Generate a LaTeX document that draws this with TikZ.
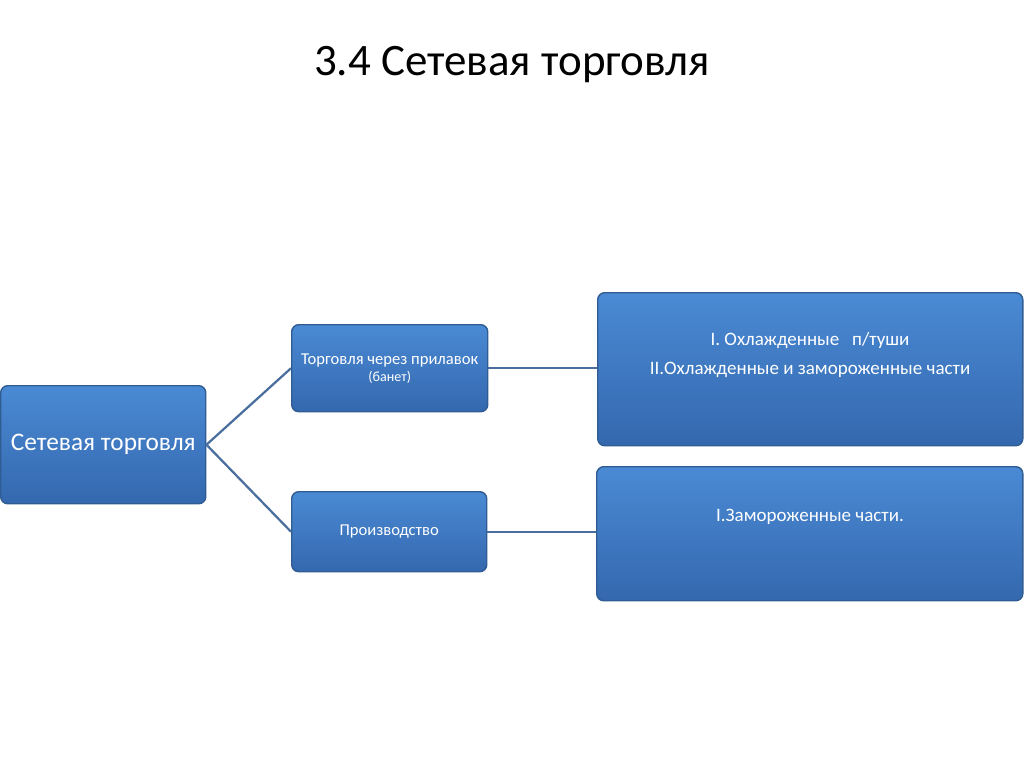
\documentclass[tikz,border=0pt]{standalone}
\usepackage{fontspec}
\setmainfont{Carlito}
\begin{document}
\begin{tikzpicture}[x=0.025cm,y=-0.025cm,
  box/.style={draw=boxborder,line width=1pt,rounded corners=5pt,top color=boxtop,bottom color=boxbot,text=white,align=center,inner sep=2pt,anchor=north west},
  conn/.style={draw=linecol,line width=1.6pt}]
\definecolor{boxtop}{HTML}{4A8AD4}
\definecolor{boxbot}{HTML}{3468AE}
\definecolor{boxborder}{HTML}{2F5C92}
\definecolor{linecol}{HTML}{4A6F9E}
\useasboundingbox (0,0) rectangle (1024,767);
\node (title) at (512,65) {\fontsize{32}{38}\selectfont 3.4 Сетевая торговля};
\node[box,minimum width=5.125cm,minimum height=2.95cm] (root) at (0,385) {\fontsize{18}{22}\selectfont Сетевая торговля};
\node[box,minimum width=4.9cm,minimum height=2.175cm] (a) at (291,324) {\fontsize{11.8}{15}\selectfont Торговля через прилавок\\(банет)};
\node[box,minimum width=4.875cm,minimum height=2cm] (b) at (291,491) {\fontsize{11.8}{14}\selectfont Производство};
\node[box,minimum width=10.625cm,minimum height=3.825cm] (c) at (597,292) {};
\node[box,minimum width=10.65cm,minimum height=3.35cm] (d) at (596,466) {};
\node[text=white] (ct1) at (810,340) {\fontsize{13.5}{16}\selectfont I. Охлажденные\ \ \ п/туши};
\node[text=white] (ct2) at (810,370) {\fontsize{13.5}{16}\selectfont II.Охлажденные и замороженные части};
\node[text=white] (dt) at (810,517) {\fontsize{13.5}{16}\selectfont I.Замороженные части.};
\draw[conn] (root.east) -- (a.west);
\draw[conn] (root.east) -- (b.west);
\draw[conn] (a.east) -- (c.west |- a.east);
\draw[conn] (b.east) -- (d.west |- b.east);
\end{tikzpicture}
\end{document}
